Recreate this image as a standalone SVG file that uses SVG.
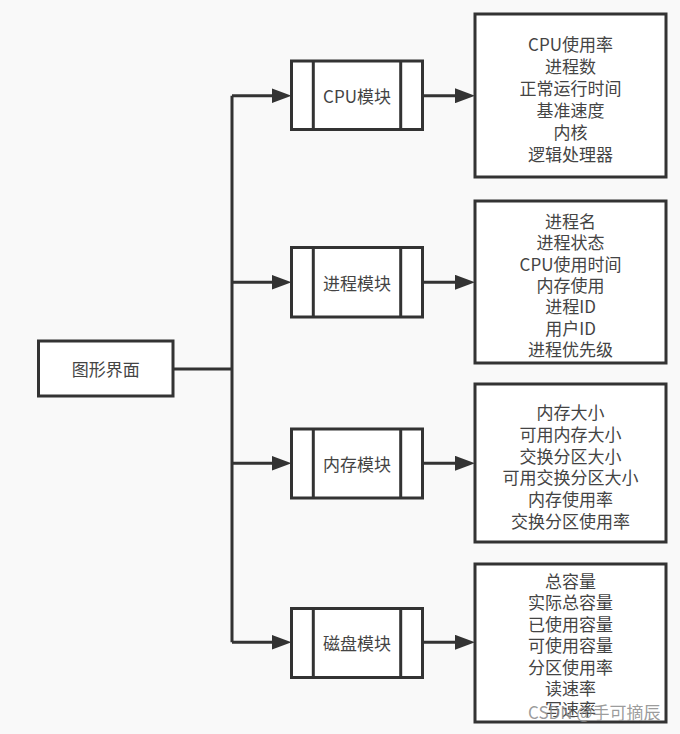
<svg xmlns="http://www.w3.org/2000/svg" width="680" height="734" viewBox="0 0 680 734">
<style>
.box{fill:#fff;stroke:#333;stroke-width:3}
.sep{stroke:#333;stroke-width:3}
.ln{fill:none;stroke:#333;stroke-width:3}
.t{font-family:"Noto Sans CJK SC","Noto Sans",sans-serif;font-size:17px;fill:#444;text-anchor:middle;dominant-baseline:central}
.wm{font-family:"Noto Sans CJK SC","Noto Sans",sans-serif;font-size:17px;fill:#8a8a8a;fill-opacity:0.85}
</style>
<defs>
<marker id="arr" markerUnits="userSpaceOnUse" markerWidth="20" markerHeight="15" refX="2" refY="7.5" orient="auto">
<path d="M0,0 L20,7.5 L0,15 z" fill="#333"/>
</marker>
</defs>
<rect x="0" y="0" width="680" height="734" fill="#f9f9f9"/>
<g id="connectors">
<path class="ln" d="M173,369 H232"/>
<path class="ln" d="M232,95.7 V642.3"/>
<path class="ln" d="M232,95.7 H273.5" marker-end="url(#arr)"/>
<path class="ln" d="M232,282.3 H273.5" marker-end="url(#arr)"/>
<path class="ln" d="M232,463.3 H273.5" marker-end="url(#arr)"/>
<path class="ln" d="M232,642.3 H273.5" marker-end="url(#arr)"/>
<path class="ln" d="M422.5,95.7 H457" marker-end="url(#arr)"/>
<path class="ln" d="M422.5,282.3 H457" marker-end="url(#arr)"/>
<path class="ln" d="M422.5,463.3 H457" marker-end="url(#arr)"/>
<path class="ln" d="M422.5,642.3 H457" marker-end="url(#arr)"/>
</g>
<g id="gui">
<rect class="box" x="38.5" y="341" width="134.5" height="55"/>
<text class="t" x="105.7" y="368.5">图形界面</text>
</g>
<g id="cpu-module">
<rect class="box" x="291.5" y="61" width="131" height="68.5"/>
<line class="sep" x1="313.3" y1="61" x2="313.3" y2="129.5"/>
<line class="sep" x1="400.7" y1="61" x2="400.7" y2="129.5"/>
<text class="t" x="357" y="95.7">CPU模块</text>
</g>
<g id="process-module">
<rect class="box" x="291.5" y="247.5" width="131" height="69.5"/>
<line class="sep" x1="313.3" y1="247.5" x2="313.3" y2="317"/>
<line class="sep" x1="400.7" y1="247.5" x2="400.7" y2="317"/>
<text class="t" x="357" y="282.3">进程模块</text>
</g>
<g id="memory-module">
<rect class="box" x="291.5" y="429" width="131" height="69"/>
<line class="sep" x1="313.3" y1="429" x2="313.3" y2="498"/>
<line class="sep" x1="400.7" y1="429" x2="400.7" y2="498"/>
<text class="t" x="357" y="463.3">内存模块</text>
</g>
<g id="disk-module">
<rect class="box" x="291.5" y="608.5" width="131" height="69"/>
<line class="sep" x1="313.3" y1="608.5" x2="313.3" y2="677.5"/>
<line class="sep" x1="400.7" y1="608.5" x2="400.7" y2="677.5"/>
<text class="t" x="357" y="642.3">磁盘模块</text>
</g>
<g id="cpu-details">
<rect class="box" x="475" y="14" width="191" height="163"/>
<text class="t" x="570.5" y="43">CPU使用率</text>
<text class="t" x="570.5" y="65">进程数</text>
<text class="t" x="570.5" y="87">正常运行时间</text>
<text class="t" x="570.5" y="109">基准速度</text>
<text class="t" x="570.5" y="131">内核</text>
<text class="t" x="570.5" y="153">逻辑处理器</text>
</g>
<g id="process-details">
<rect class="box" x="475" y="201" width="191" height="162"/>
<text class="t" x="570.5" y="220">进程名</text>
<text class="t" x="570.5" y="241.5">进程状态</text>
<text class="t" x="570.5" y="263">CPU使用时间</text>
<text class="t" x="570.5" y="284.3">内存使用</text>
<text class="t" x="570.5" y="305.7">进程ID</text>
<text class="t" x="570.5" y="327">用户ID</text>
<text class="t" x="570.5" y="348.3">进程优先级</text>
</g>
<g id="memory-details">
<rect class="box" x="475" y="384" width="191" height="158"/>
<text class="t" x="570.5" y="411.7">内存大小</text>
<text class="t" x="570.5" y="433.3">可用内存大小</text>
<text class="t" x="570.5" y="455">交换分区大小</text>
<text class="t" x="570.5" y="476.7">可用交换分区大小</text>
<text class="t" x="570.5" y="498.3">内存使用率</text>
<text class="t" x="570.5" y="520">交换分区使用率</text>
</g>
<g id="disk-details">
<rect class="box" x="475" y="564" width="191" height="158"/>
<text class="t" x="570.5" y="580">总容量</text>
<text class="t" x="570.5" y="601.5">实际总容量</text>
<text class="t" x="570.5" y="623">已使用容量</text>
<text class="t" x="570.5" y="644.5">可使用容量</text>
<text class="t" x="570.5" y="666">分区使用率</text>
<text class="t" x="570.5" y="687.5">读速率</text>
<text class="t" x="570.5" y="708">写速率</text>
</g>
<text class="wm" x="528" y="719">CSDN @手可摘辰</text>
</svg>
